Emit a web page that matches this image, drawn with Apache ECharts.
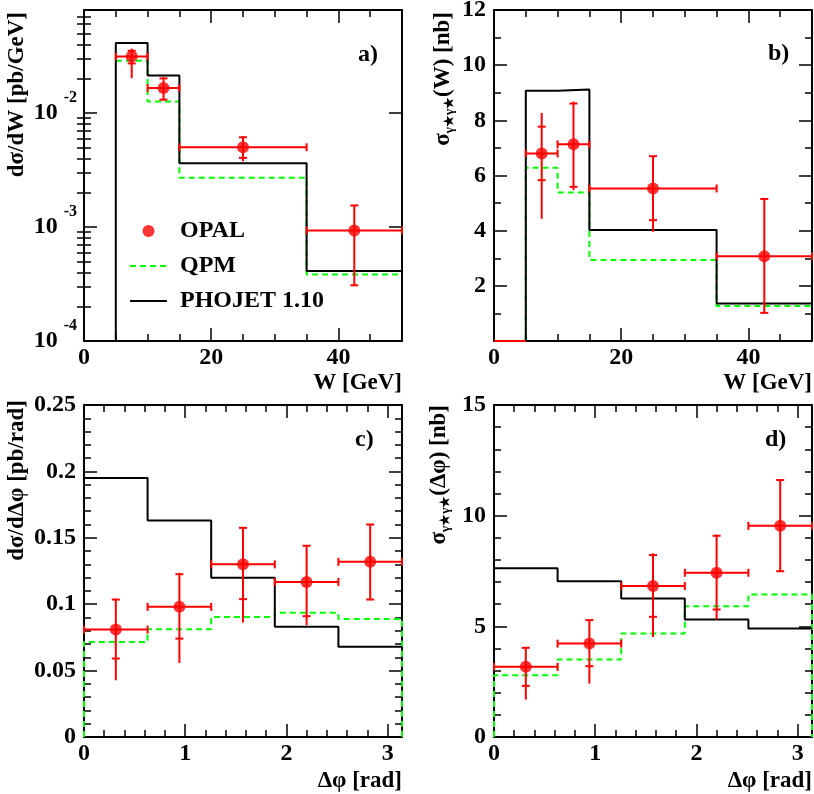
<!DOCTYPE html>
<html>
<head>
<meta charset="utf-8">
<script src="https://cdn.jsdelivr.net/npm/echarts@6.0.0/dist/echarts.min.js"></script>
<style>
  html, body { margin: 0; padding: 0; background: #fff; }
  #chart { width: 814px; height: 794px; }
</style>
</head>
<body>
<div id="chart"></div>
<script>
// ---------- W distributions, panels a) and b) ----------
const wEdges = [5, 10, 15, 35, 50]
const wCenters = [7.5, 12.5, 25, 42.5]
const wZeroBin = [0, 5]

const phojetA = [0.041, 0.0213, 0.00362, 0.000411]
const qpmA = [0.0287, 0.0126, 0.0027, 0.000383]
const opalA = [0.0313, 0.01655, 0.0050, 0.000933]
const opalAStatLo = [0.0272, 0.0131, 0.00404, 0.000308]
const opalAStatHi = [0.0351, 0.0201, 0.00612, 0.001545]
const opalATotLo = [0.0202, 0.0128, 0.00377, 0.000308]
const opalATotHi = [0.0367, 0.0206, 0.00625, 0.001545]

const phojetB = [9.07, 9.12, 4.02, 1.36]
const qpmB = [6.28, 5.38, 2.94, 1.27]
const opalB = [6.8, 7.13, 5.53, 3.07]
const opalBStatLo = [5.83, 5.59, 4.38, 1.02]
const opalBStatHi = [7.77, 8.61, 6.70, 5.15]
const opalBTotLo = [4.43, 5.47, 3.96, 1.02]
const opalBTotHi = [8.27, 8.68, 6.70, 5.15]

// ---------- delta phi distributions, panels c) and d) ----------
const phiEdges = [0, 0.6283, 1.2566, 1.885, 2.5133, 3.1416]
const phiCenters = [0.3142, 0.9425, 1.5708, 2.1991, 2.8274]

const phojetC = [0.195, 0.163, 0.120, 0.083, 0.068]
const qpmC = [0.0716, 0.0812, 0.0904, 0.0935, 0.0889]
const opalC = [0.0809, 0.098, 0.130, 0.1168, 0.1319]
const opalCStatLo = [0.0591, 0.0741, 0.1038, 0.091, 0.1035]
const opalCStatHi = [0.1035, 0.1226, 0.1575, 0.144, 0.160]
const opalCTotLo = [0.0427, 0.0558, 0.0862, 0.0842, 0.1035]
const opalCTotHi = [0.104, 0.1236, 0.158, 0.1445, 0.160]

const phojetD = [7.62, 7.04, 6.26, 5.31, 4.90]
const qpmD = [2.79, 3.50, 4.68, 5.91, 6.44]
const opalD = [3.17, 4.22, 6.82, 7.42, 9.54]
const opalDStatLo = [2.31, 3.20, 5.43, 5.76, 7.49]
const opalDStatHi = [4.03, 5.28, 8.22, 9.09, 11.61]
const opalDTotLo = [1.69, 2.41, 4.52, 5.31, 7.49]
const opalDTotHi = [4.03, 5.30, 8.30, 9.15, 11.61]

// ---------- log axis ticks for a) ----------
const logRangeA = [1e-4, 0.08]
const logMajorA = [1e-4, 1e-3, 1e-2]
const logMinorA = [2e-4, 3e-4, 4e-4, 5e-4, 6e-4, 7e-4, 8e-4, 9e-4,
                   2e-3, 3e-3, 4e-3, 5e-3, 6e-3, 7e-3, 8e-3, 9e-3,
                   2e-2, 3e-2, 4e-2, 5e-2, 6e-2, 7e-2]

const FONT = 'Liberation Serif'
const RED = '#ff0000'
const GREEN = '#00ff00'

const labelFont = { fontFamily: FONT, fontWeight: 'bold', fontSize: 24, color: '#000' }
const titleFont = { fontFamily: FONT, fontWeight: 'bold', fontSize: 23, color: '#000' }
const frameLine = { show: true, onZero: false, lineStyle: { color: '#000', width: 2 } }
const tickStyle = { color: '#000', width: 1.5 }

// histogram outline for a step line, optional drop to the floor at either end
function histo(edges, values, floorStart, floorEnd) {
    const pts = []
    if (floorStart != null) pts.push([edges[0], floorStart])
    values.forEach((v, i) => pts.push([edges[i], v]))
    pts.push([edges[edges.length - 1], values[values.length - 1]])
    if (floorEnd != null) pts.push([edges[edges.length - 1], floorEnd])
    return pts
}

function points(centers, edges, vals, sLo, sHi, tLo, tHi) {
    return centers.map((c, i) => [c, vals[i], edges[i], edges[i + 1], sLo[i], sHi[i], tLo[i], tHi[i]])
}

function renderErr(params, api) {
    const x = api.value(0), y = api.value(1)
    const c = api.coord([x, y])
    const l = api.coord([api.value(2), y])
    const r = api.coord([api.value(3), y])
    const sLo = api.coord([x, api.value(4)])
    const sHi = api.coord([x, api.value(5)])
    const tLo = api.coord([x, api.value(6)])
    const tHi = api.coord([x, api.value(7)])
    const st = { stroke: RED, lineWidth: 2 }
    const seg = (x1, y1, x2, y2) => ({ type: 'line', shape: { x1, y1, x2, y2 }, style: st })
    const cap = 4
    return {
        type: 'group',
        children: [
            seg(l[0], c[1], r[0], c[1]),
            seg(l[0], c[1] - cap, l[0], c[1] + cap),
            seg(r[0], c[1] - cap, r[0], c[1] + cap),
            seg(c[0], tLo[1], c[0], tHi[1]),
            seg(c[0] - cap, sLo[1], c[0] + cap, sLo[1]),
            seg(c[0] - cap, sHi[1], c[0] + cap, sHi[1])
        ]
    }
}

function linAxis(grid, pos, min, max, interval, split, extra) {
    return Object.assign({
        type: 'value', gridIndex: grid, position: pos, min, max, interval,
        axisLine: frameLine,
        axisTick: { show: true, inside: true, length: 13, lineStyle: tickStyle },
        minorTick: { show: true, splitNumber: split, length: 7, lineStyle: tickStyle },
        splitLine: { show: false }, minorSplitLine: { show: false },
        axisLabel: { show: false },
        nameMoveOverlap: false
    }, extra)
}

function logAxis(pos, ticks, len, extra) {
    return Object.assign({
        type: 'log', logBase: 10, gridIndex: 0, position: pos,
        min: logRangeA[0], max: logRangeA[1],
        axisLine: frameLine,
        axisTick: { show: true, inside: true, length: len, lineStyle: tickStyle, customValues: ticks },
        minorTick: { show: false },
        splitLine: { show: false },
        axisLabel: { show: false },
        nameMoveOverlap: false
    }, extra)
}

function xLabels() {
    return { show: true, margin: 5, showMaxLabel: false, ...labelFont, lineHeight: 24 }
}

function xName(text, pad) {
    return {
        name: text, nameLocation: 'end', nameGap: 0,
        nameTextStyle: { ...titleFont, align: 'right', verticalAlign: 'top', lineHeight: 26, padding: [pad, 0, 0, 0] }
    }
}

function yName(text, gap, pad) {
    return {
        name: text, nameLocation: 'end', nameGap: gap, nameRotate: 90,
        nameTextStyle: {
            ...titleFont, align: 'right', verticalAlign: 'bottom', padding: [0, 0, pad, 0],
            rich: {
                m: { ...titleFont },
                s: { ...titleFont, fontSize: 13, padding: [12, 0, 0, 0] }
            }
        }
    }
}

const grids = [
    { left: 84, top: 10, width: 318, height: 331 },
    { left: 494, top: 10, width: 318, height: 331 },
    { left: 84, top: 405, width: 318, height: 332 },
    { left: 494, top: 405, width: 318, height: 332 }
].map(g => ({ ...g, containLabel: false, outerBoundsMode: 'none' }))

const xAxes = [
    linAxis(0, 'bottom', 0, 50, 20, 4, { axisLabel: xLabels(), ...xName('W [GeV]', 29) }),
    linAxis(0, 'top', 0, 50, 20, 4),
    linAxis(1, 'bottom', 0, 50, 20, 4, { axisLabel: xLabels(), ...xName('W [GeV]', 29) }),
    linAxis(1, 'top', 0, 50, 20, 4),
    linAxis(2, 'bottom', 0, Math.PI, 1, 5, { axisLabel: xLabels(), ...xName('Δφ [rad]', 31) }),
    linAxis(2, 'top', 0, Math.PI, 1, 5),
    linAxis(3, 'bottom', 0, Math.PI, 1, 5, { axisLabel: xLabels(), ...xName('Δφ [rad]', 31) }),
    linAxis(3, 'top', 0, Math.PI, 1, 5)
]

const yLabels = (extra) => ({ show: true, margin: 8, showMaxLabel: true, ...labelFont, ...extra })

const yAxes = [
    logAxis('left', logMajorA, 13, {
        axisLabel: {
            show: true, margin: 7, customValues: logMajorA,
            formatter: v => '{m|10}{e|' + Math.round(Math.log10(v)) + '}',
            rich: {
                m: { ...labelFont },
                e: { ...labelFont, fontSize: 16, padding: [0, 0, 30, 6] }
            }
        },
        ...yName('dσ/dW [pb/GeV]', -2, 55)
    }),
    logAxis('right', logMajorA, 13),
    logAxis('left', logMinorA, 7, { axisLine: { show: false } }),
    logAxis('right', logMinorA, 7, { axisLine: { show: false } }),
    linAxis(1, 'left', 0, 12, 2, 2, {
        axisLabel: yLabels({ showMinLabel: false }),
        ...yName('{m|σ}{s|γ★γ★}{m|(W) [nb]}', -2, 38)
    }),
    linAxis(1, 'right', 0, 12, 2, 2),
    linAxis(2, 'left', 0, 0.25, 0.05, 5, {
        axisLabel: yLabels({}),
        ...yName('dσ/dΔφ [pb/rad]', 5, 55)
    }),
    linAxis(2, 'right', 0, 0.25, 0.05, 5),
    linAxis(3, 'left', 0, 15, 5, 5, {
        axisLabel: yLabels({}),
        ...yName('{m|σ}{s|γ★γ★}{m|(Δφ) [nb]}', 0, 42)
    }),
    linAxis(3, 'right', 0, 15, 5, 5)
]

function panelSeries(xi, yi, qpm, phojet, opal) {
    return [
        { type: 'line', name: 'QPM', xAxisIndex: xi, yAxisIndex: yi, data: qpm, step: 'end', symbol: 'none',
          lineStyle: { color: GREEN, width: 2, type: [6, 4] }, itemStyle: { color: GREEN }, z: 2 },
        { type: 'line', name: 'PHOJET 1.10', xAxisIndex: xi, yAxisIndex: yi, data: phojet, step: 'end', symbol: 'none',
          lineStyle: { color: '#000', width: 2 }, itemStyle: { color: '#000' }, z: 3 },
        { type: 'custom', name: 'OPAL errors', xAxisIndex: xi, yAxisIndex: yi, data: opal,
          encode: { x: 0, y: 1 }, renderItem: renderErr, z: 4 },
        { type: 'scatter', name: 'OPAL', xAxisIndex: xi, yAxisIndex: yi, data: opal.map(p => [p[0], p[1]]),
          symbol: 'circle', symbolSize: 12, itemStyle: { color: RED }, z: 5 }
    ]
}

const series = [
    ...panelSeries(0, 0,
        histo(wEdges, qpmA),
        histo(wEdges, phojetA, logRangeA[0]),
        points(wCenters, wEdges, opalA, opalAStatLo, opalAStatHi, opalATotLo, opalATotHi)),
    ...panelSeries(2, 4,
        histo(wEdges, qpmB, 0),
        histo([wZeroBin[0], ...wEdges], [0, ...phojetB]),
        points(wCenters, wEdges, opalB, opalBStatLo, opalBStatHi, opalBTotLo, opalBTotHi)),
    { type: 'line', name: 'OPAL zero bin', xAxisIndex: 2, yAxisIndex: 4,
      data: [[wZeroBin[0], 0], [wZeroBin[1], 0]], symbol: 'none',
      lineStyle: { color: RED, width: 2 }, z: 4 },
    ...panelSeries(4, 6,
        histo(phiEdges, qpmC, 0, 0),
        histo(phiEdges, phojetC),
        points(phiCenters, phiEdges, opalC, opalCStatLo, opalCStatHi, opalCTotLo, opalCTotHi)),
    ...panelSeries(6, 8,
        histo(phiEdges, qpmD, 0, 0),
        histo(phiEdges, phojetD),
        points(phiCenters, phiEdges, opalD, opalDStatLo, opalDStatHi, opalDTotLo, opalDTotHi))
]

const panelLabel = (text, x, y) => ({
    type: 'text', x, y,
    style: { text, fill: '#000', font: 'bold 24px "Liberation Serif"', verticalAlign: 'middle' }
})

const option = {
    animation: false,
    backgroundColor: '#fff',
    grid: grids,
    xAxis: xAxes,
    yAxis: yAxes,
    legend: {
        data: [
            { name: 'OPAL', icon: 'circle' },
            { name: 'QPM', itemStyle: { opacity: 0 } },
            { name: 'PHOJET 1.10', itemStyle: { opacity: 0 } }
        ],
        orient: 'vertical', left: 124, top: 214,
        itemWidth: 37, itemHeight: 12, itemGap: 11,
        selectedMode: false,
        textStyle: { ...labelFont, padding: [0, 0, 0, 8] }
    },
    graphic: [
        panelLabel('a)', 358, 55),
        panelLabel('b)', 768, 54),
        panelLabel('c)', 355, 440),
        panelLabel('d)', 765, 440)
    ],
    series
}

const chart = echarts.init(document.getElementById('chart'))
chart.setOption(option)
</script>
</body>
</html>
